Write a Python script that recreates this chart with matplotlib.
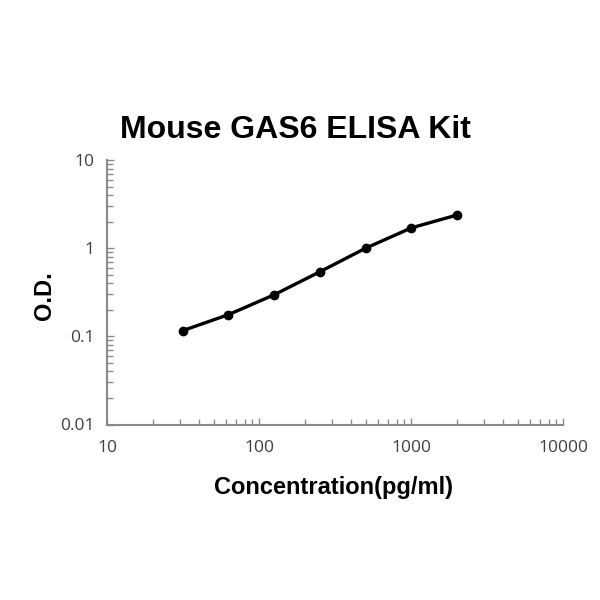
import matplotlib
matplotlib.use("Agg")
import matplotlib.pyplot as plt
from matplotlib.ticker import LogLocator, NullFormatter

conc = [31.25, 62.5, 125, 250, 500, 1000, 2000]
od = [0.116, 0.176, 0.296, 0.54, 1.0, 1.70, 2.38]
xticks = [10, 100, 1000, 10000]
xticklabels = ["10", "100", "1000", "10000"]
yticks = [0.01, 0.1, 1, 10]
yticklabels = ["0.01", "0.1", "1", "10"]

fig = plt.figure(figsize=(6, 6), dpi=100)
ax = fig.add_axes([0.179, 0.2925, 0.76, 0.4408])
ax.plot(conc, od, color="black", lw=2.4, marker="o", ms=6, solid_capstyle="round")
ax.set_xscale("log")
ax.set_yscale("log")
ax.set_xlim(10, 10000)
ax.set_ylim(0.01, 10)
for s in ["top", "right"]:
    ax.spines[s].set_visible(False)
for s in ["left", "bottom"]:
    ax.spines[s].set_color("#8a8a8a")
    ax.spines[s].set_linewidth(1.5)
ax.set_xticks(xticks)
ax.set_xticklabels(xticklabels)
ax.set_yticks(yticks)
ax.set_yticklabels(yticklabels)
ax.xaxis.set_minor_locator(LogLocator(base=10, subs=range(2, 10)))
ax.yaxis.set_minor_locator(LogLocator(base=10, subs=range(2, 10)))
ax.xaxis.set_minor_formatter(NullFormatter())
ax.yaxis.set_minor_formatter(NullFormatter())
ax.tick_params(which="major", direction="in", length=5, color="#8a8a8a", width=1,
               labelsize=12.5, labelcolor="#404040")
ax.tick_params(axis="x", which="major", pad=11)
ax.tick_params(axis="y", which="major", pad=9)
ax.tick_params(which="minor", direction="in", length=4, color="#8a8a8a", width=1)
for lab in ax.get_xticklabels() + ax.get_yticklabels():
    lab.set_family("Open Sans")
fig.text(0.492, 0.783, "Mouse GAS6 ELISA Kit", ha="center", va="center",
         fontsize=23, fontweight="bold", family="Liberation Sans")
fig.text(0.555, 0.187, "Concentration(pg/ml)", ha="center", va="center",
         fontsize=17, fontweight="bold", family="Liberation Sans")
fig.text(0.075, 0.507, "O.D.", ha="center", va="center", rotation=90,
         fontsize=17, fontweight="bold", family="Liberation Sans")
fig.savefig("out.png", dpi=100, facecolor="white")
